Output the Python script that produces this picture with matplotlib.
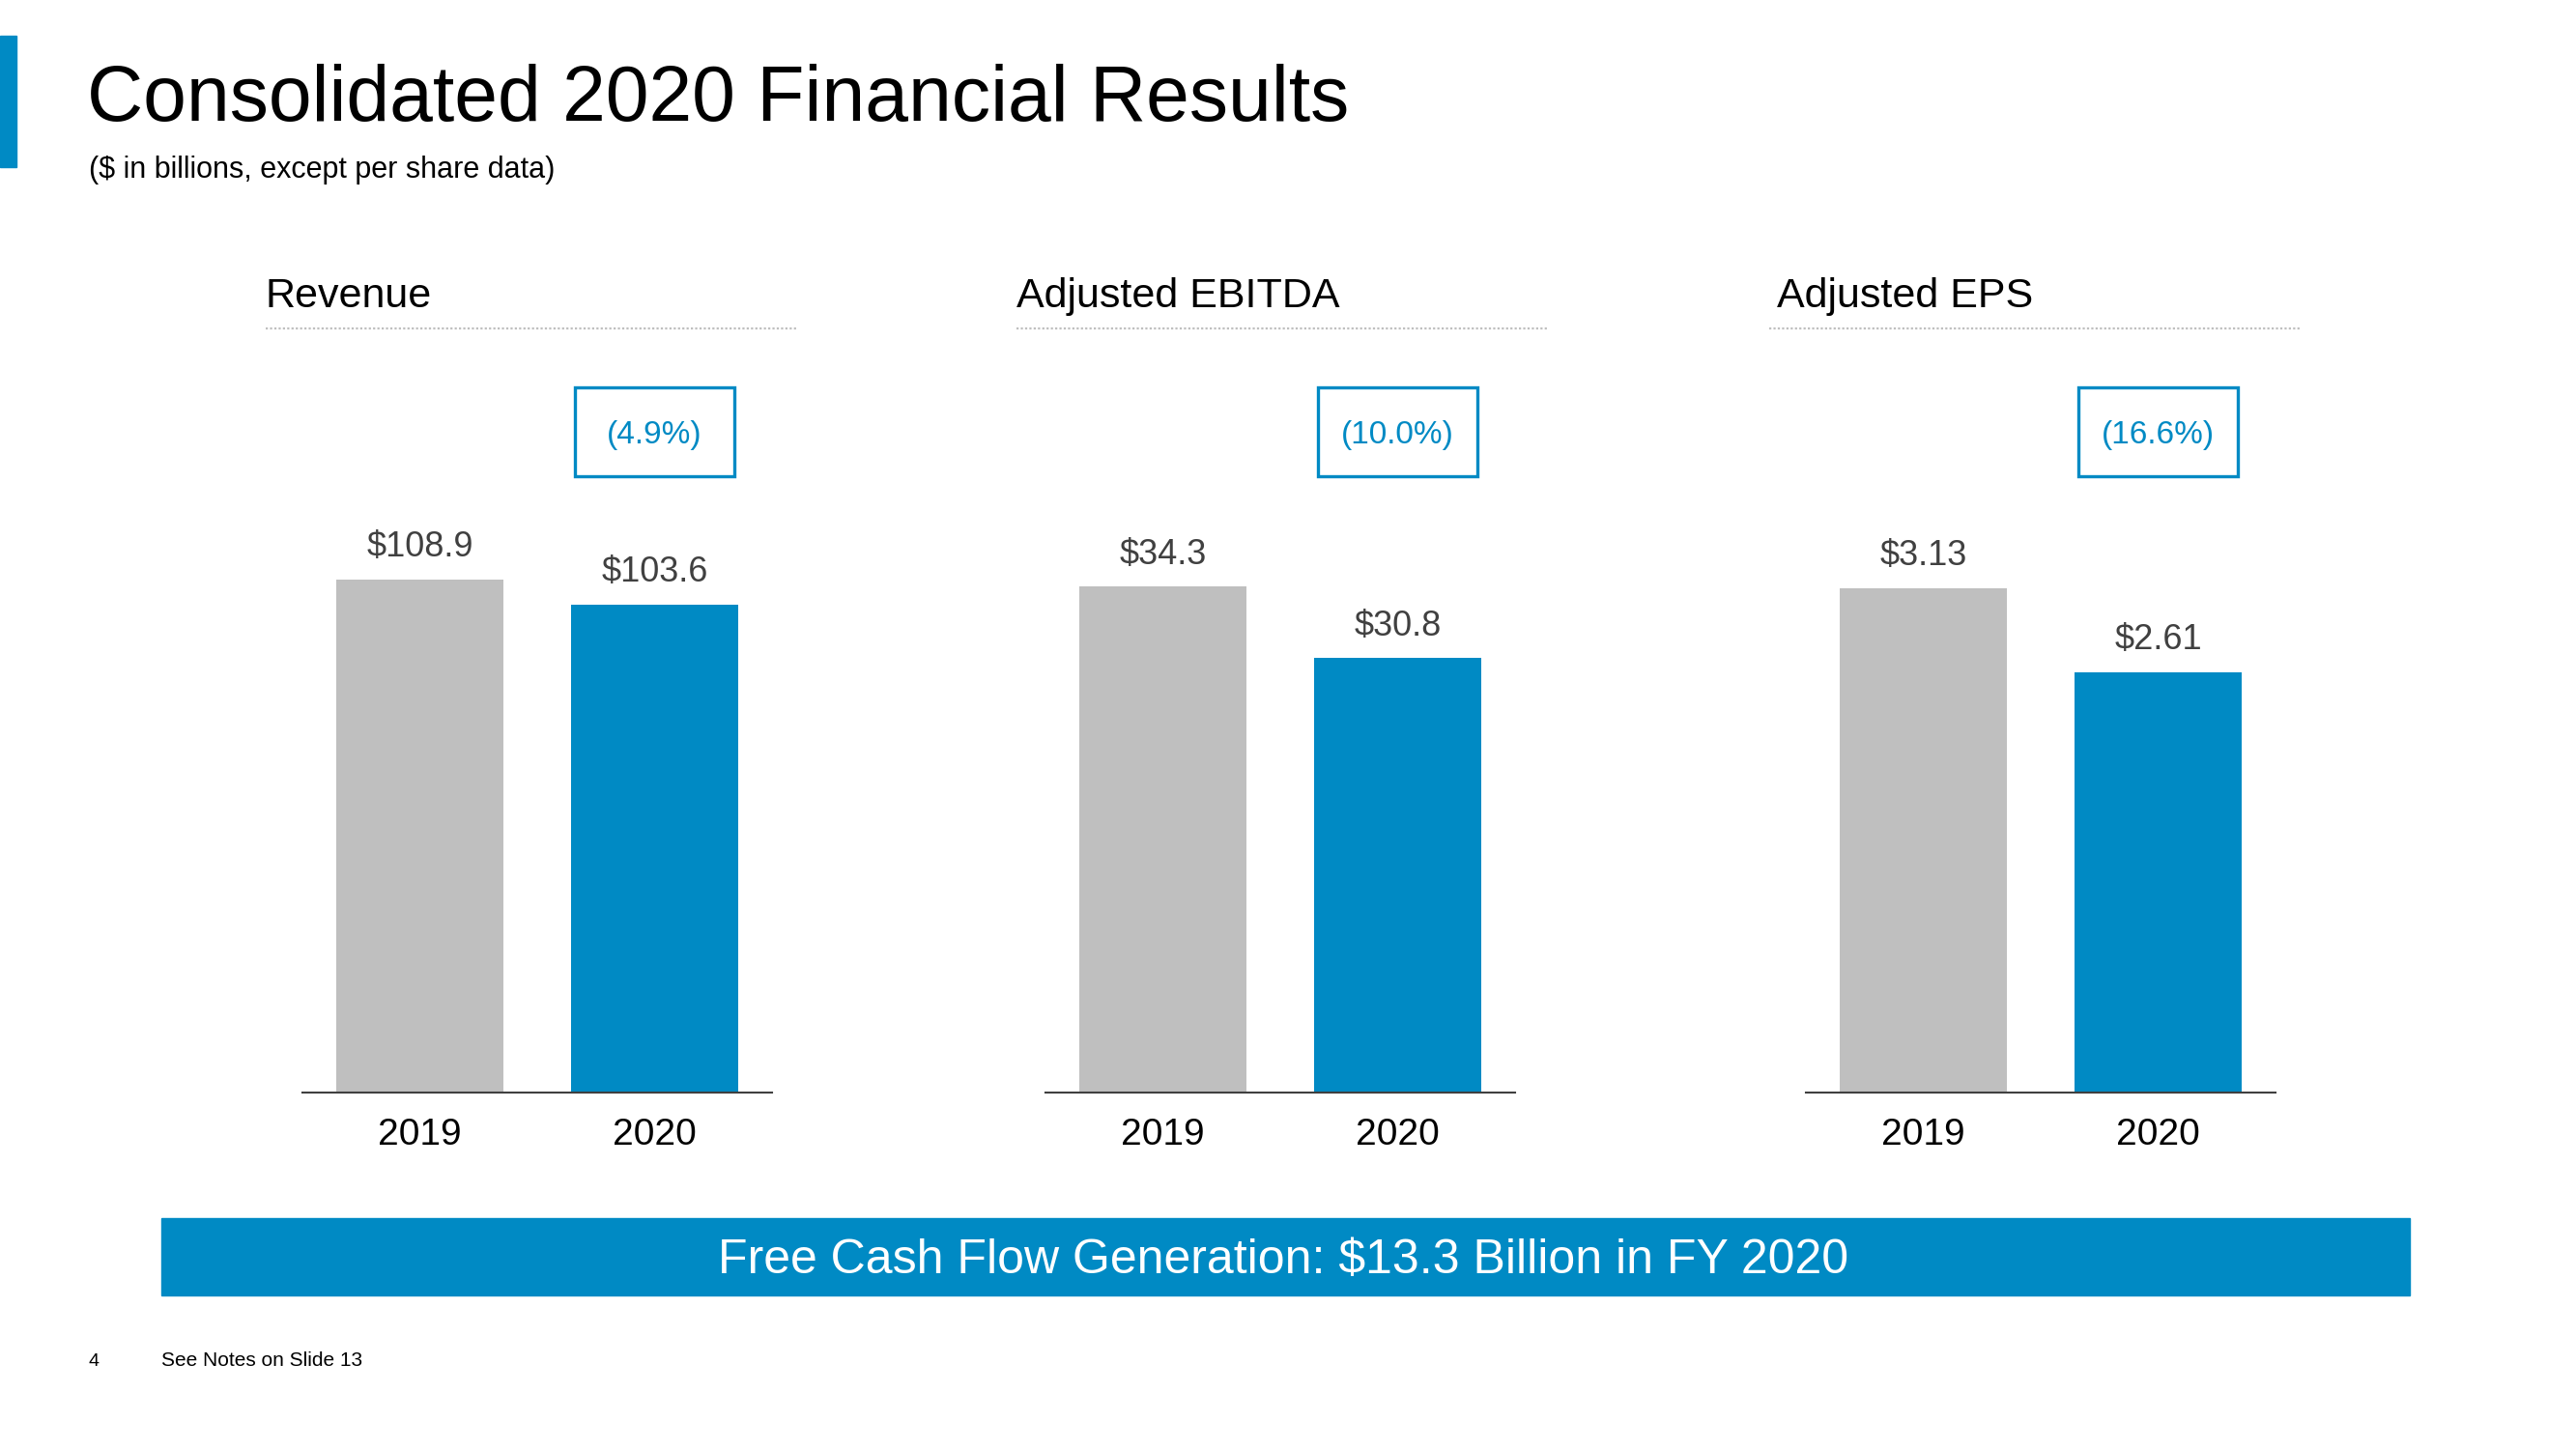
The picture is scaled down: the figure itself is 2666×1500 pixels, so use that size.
import matplotlib
matplotlib.use("Agg")
import matplotlib.pyplot as plt
from matplotlib.patches import Rectangle
import matplotlib.transforms as mtransforms

# ---- data ----
years = ["2019", "2020"]
panel_titles = ["Revenue", "Adjusted EBITDA", "Adjusted EPS"]
revenue = [108.9, 103.6]
ebitda = [34.3, 30.8]
eps = [3.13, 2.61]
value_labels = [["$108.9", "$103.6"], ["$34.3", "$30.8"], ["$3.13", "$2.61"]]
changes = ["(4.9%)", "(10.0%)", "(16.6%)"]
title = "Consolidated 2020 Financial Results"
subtitle = "($ in billions, except per share data)"
banner_text = "Free Cash Flow Generation: $13.3 Billion in FY 2020"
footer_num = "4"
footer_note = "See Notes on Slide 13"

BLUE = "#008AC4"
GRAY = "#BFBFBF"
LABEL = "#404040"
FONT = ["Liberation Sans", "DejaVu Sans"]
plt.rcParams["font.family"] = FONT

W, H = 2666, 1500
fig = plt.figure(figsize=(W / 100, H / 100), dpi=100)
fig.patch.set_facecolor("white")


def fx(px):
    return px / W


def fy(py):
    return 1 - py / H


# accent bar on the left
fig.patches.append(Rectangle((0, fy(173)), fx(17), (173 - 37) / H, transform=fig.transFigure,
                             color=BLUE, zorder=1))
fig.text(fx(90), fy(104), title, fontsize=58, color="black", va="center", ha="left")
fig.text(fx(92), fy(176), subtitle, fontsize=22, color="black", va="center", ha="left")

series = [revenue, ebitda, eps]
ylims = [(0, 162.2), (9.52, 46.94), (0, 4.742)]
axes_left = [313, 1082, 1869]
title_x = [275, 1052, 1839]
dot_x = [(275, 826), (1052, 1603), (1831, 2382)]
ax_top, ax_bottom = 340, 1131

for i in range(3):
    ax = fig.add_axes([fx(axes_left[i]), fy(ax_bottom), 486 / W, (ax_bottom - ax_top) / H])
    ax.set_xlim(-0.5, 1.5)
    ax.set_ylim(*ylims[i])
    vals = series[i]
    bars = ax.bar([0, 1], vals, width=0.716, color=[GRAY, BLUE], zorder=2)
    for j, b in enumerate(bars):
        ax.annotate(value_labels[i][j], (b.get_x() + b.get_width() / 2, b.get_height()),
                    xytext=(0, 17), textcoords="offset points", ha="center", va="baseline",
                    fontsize=26, color=LABEL)
    for s in ["top", "right", "left"]:
        ax.spines[s].set_visible(False)
    ax.spines["bottom"].set_color("#404040")
    ax.spines["bottom"].set_linewidth(1.5)
    ax.set_yticks([])
    ax.set_xticks([0, 1])
    ax.set_xticklabels(years, fontsize=28, color="black")
    ax.tick_params(axis="x", length=0, pad=19)
    ax.patch.set_alpha(0)

    # change box above the 2020 bar
    trans = mtransforms.blended_transform_factory(ax.transData, ax.transAxes)
    bw = 165 / 243
    y0 = (ax_bottom - 493) / (ax_bottom - ax_top)
    y1 = (ax_bottom - 401) / (ax_bottom - ax_top)
    ax.add_patch(Rectangle((1 - bw / 2, y0), bw, y1 - y0, transform=trans, fill=False,
                           edgecolor=BLUE, linewidth=2.4, clip_on=False, zorder=3))
    ax.text(1, (y0 + y1) / 2 - 0.005, changes[i], transform=trans, ha="center", va="center",
            fontsize=24, color=BLUE)

    # panel title and dotted rule
    fig.text(fx(title_x[i]), fy(307), panel_titles[i], fontsize=31, color="black",
             va="center", ha="left")
    fig.add_artist(plt.Line2D([fx(dot_x[i][0]), fx(dot_x[i][1])], [fy(340), fy(340)],
                              transform=fig.transFigure, color="#BFBFBF", linewidth=1.6,
                              linestyle=(0, (1, 1))))

# banner
fig.patches.append(Rectangle((fx(167), fy(1341)), fx(2494 - 167), (1341 - 1261) / H,
                             transform=fig.transFigure, color=BLUE, zorder=1))
fig.text(fx(1328), fy(1305), banner_text, fontsize=36, color="white", ha="center",
         va="center", zorder=2)

# footer
fig.text(fx(97), fy(1409), footer_num, fontsize=14, color="black", ha="center", va="center")
fig.text(fx(167), fy(1409), footer_note, fontsize=15, color="black", ha="left", va="center")

fig.savefig("out.png", dpi=100, facecolor="white")
